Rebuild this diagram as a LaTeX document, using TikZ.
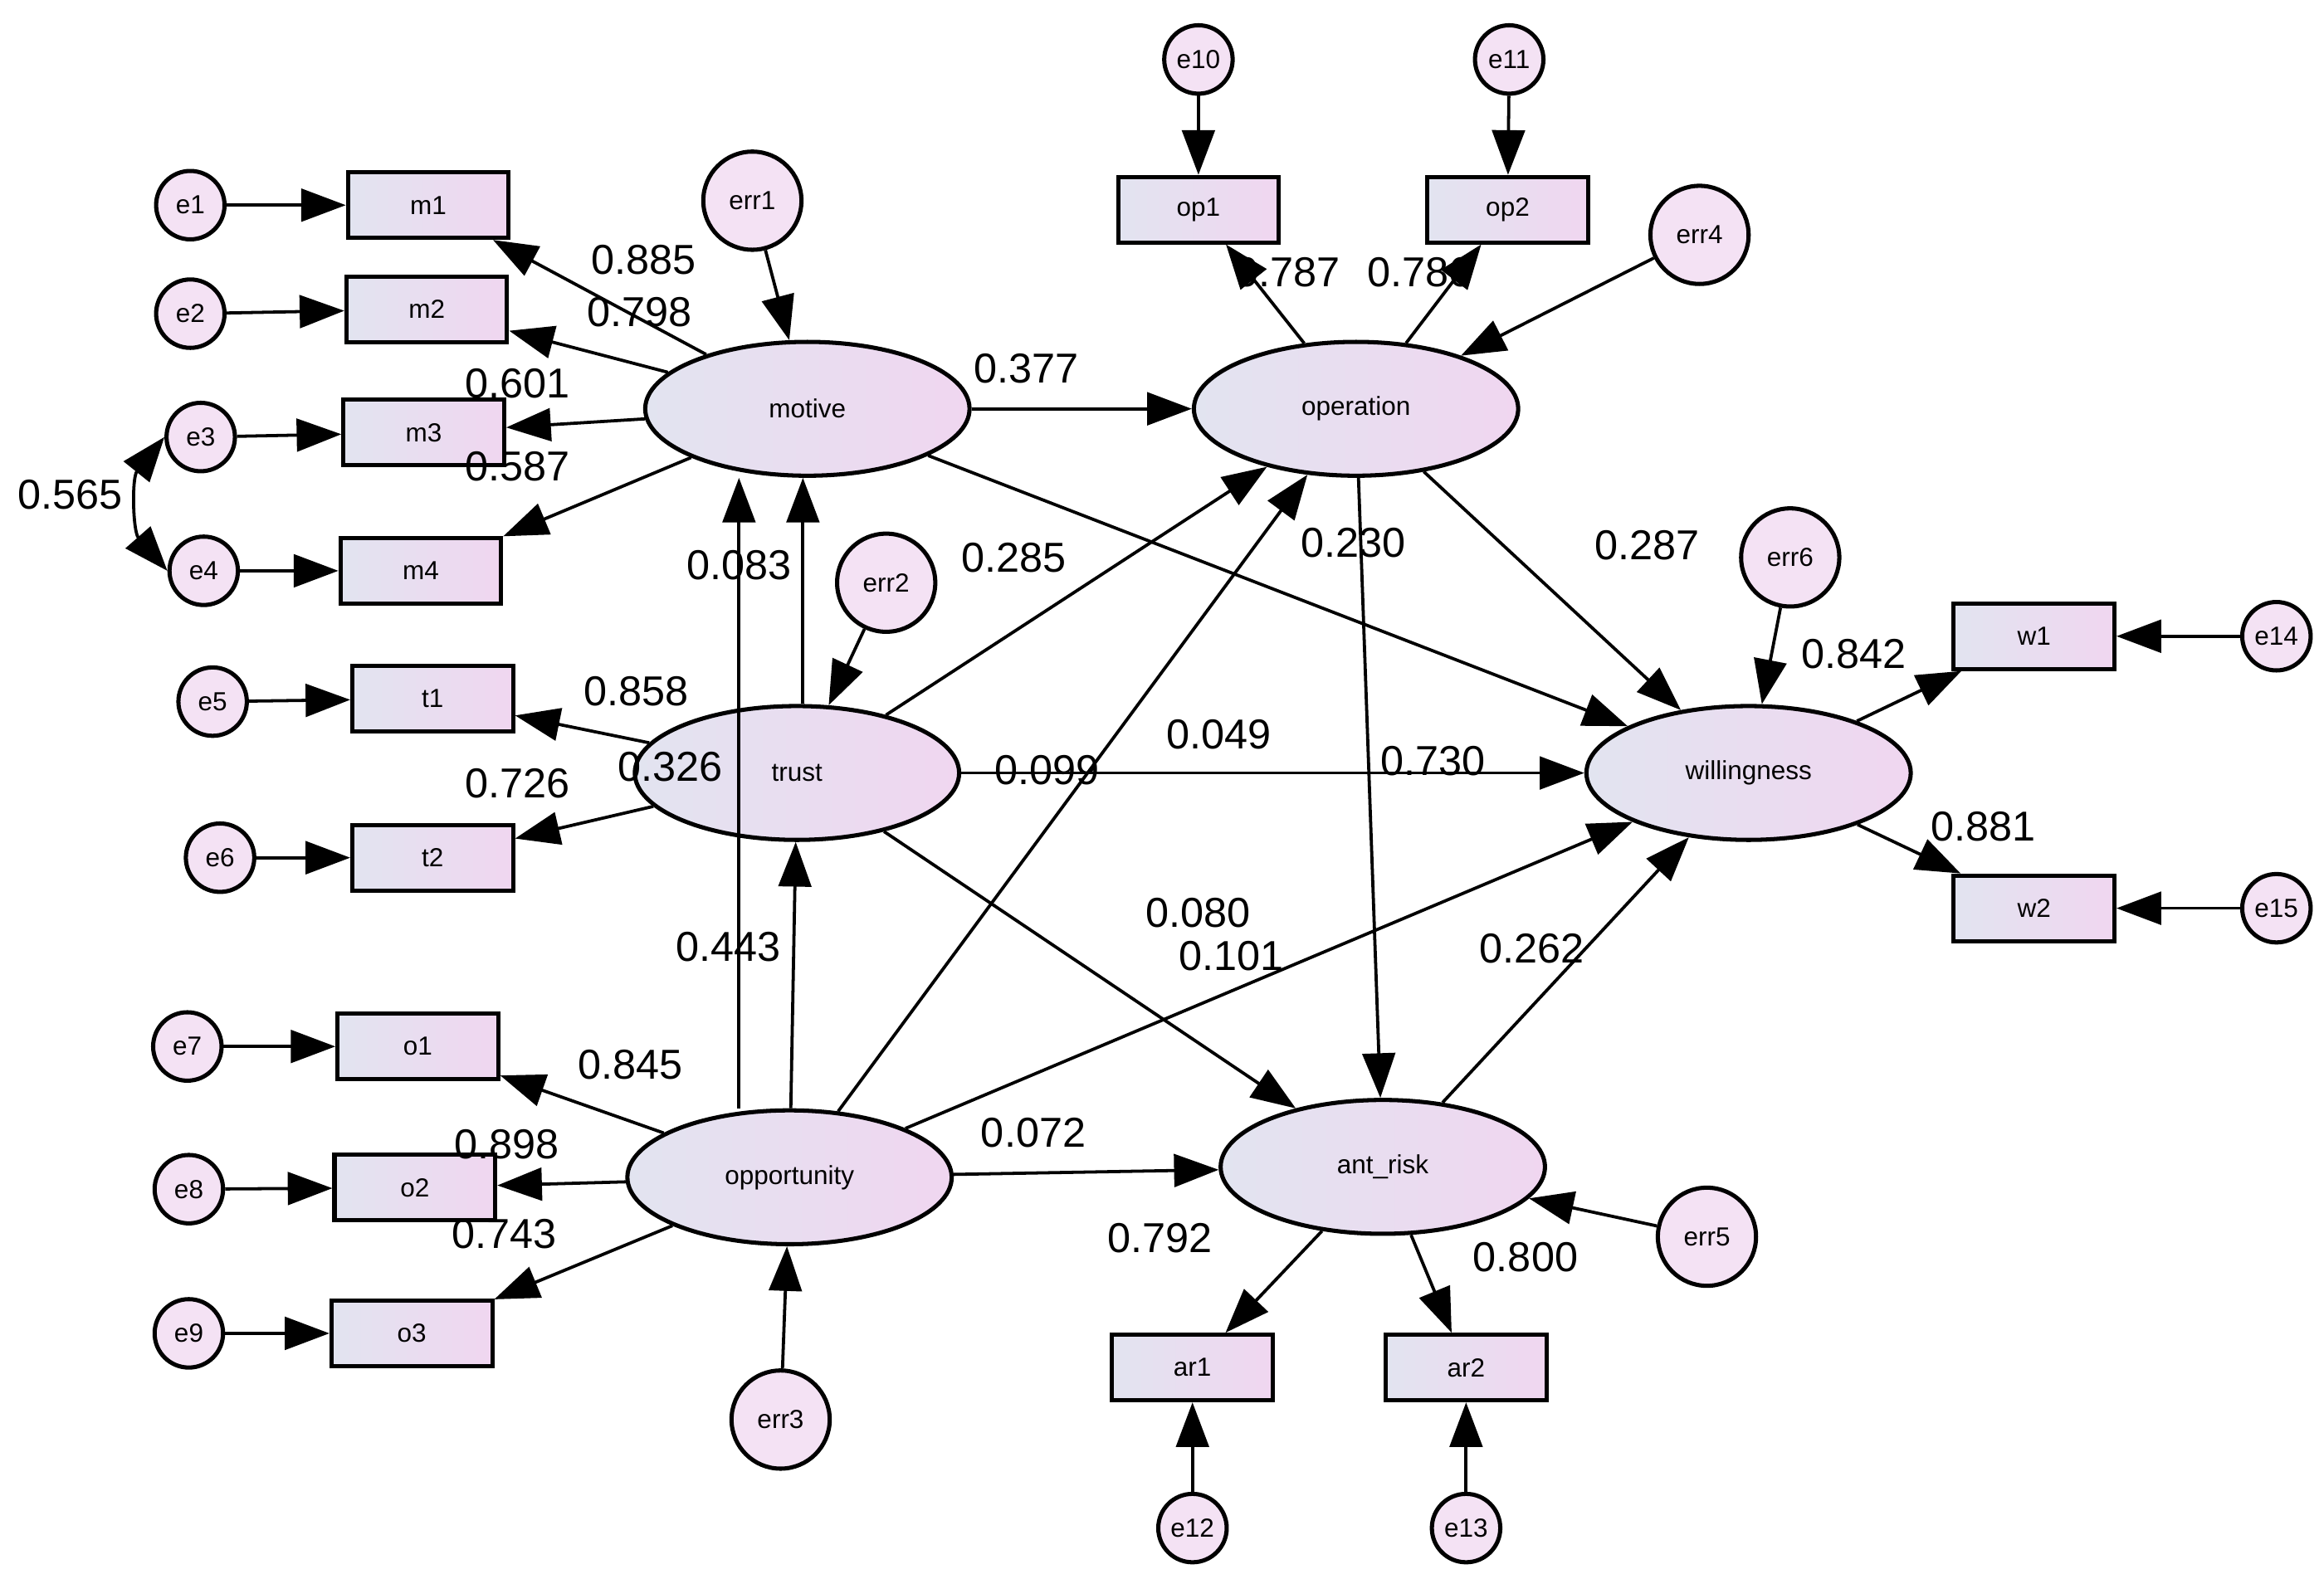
\documentclass[tikz,border=0pt]{standalone}
\usepackage{fontspec}
\setmainfont{Liberation Sans}
\usetikzlibrary{arrows.meta,shapes.geometric}
\definecolor{lblue}{RGB}{226,228,240}
\definecolor{lpink}{RGB}{240,214,240}
\tikzset{
  obs/.style={draw, thick, rectangle, minimum width=1.08cm, minimum height=0.44cm, left color=lblue, right color=lpink, font=\fontsize{5}{6}\selectfont},
  lat/.style={draw, thick, ellipse, minimum width=2.18cm, minimum height=0.9cm, left color=lblue, right color=lpink, font=\fontsize{5}{6}\selectfont},
  err/.style={draw, thick, circle, minimum size=0.46cm, inner sep=0pt, fill=lpink!70, font=\fontsize{5}{6}\selectfont},
  res/.style={err, minimum size=0.66cm},
  lbl/.style={font=\fontsize{8}{9}\selectfont},
  arr/.style={-{Triangle[length=0.3cm,width=0.22cm]}, semithick}
}
\begin{document}
\begin{tikzpicture}[x=0.01cm, y=-0.01cm]
\useasboundingbox (0,0) rectangle (1563,1062);
% measured items
\node[obs] (m1) at (288,138) {m1};
\node[obs] (m2) at (287,208) {m2};
\node[obs] (m3) at (285,291) {m3};
\node[obs] (m4) at (283,384) {m4};
\node[obs] (t1) at (291,470) {t1};
\node[obs] (t2) at (291,577) {t2};
\node[obs] (o1) at (281,704) {o1};
\node[obs] (o2) at (279,799) {o2};
\node[obs] (o3) at (277,897) {o3};
\node[obs] (op1) at (806,141) {op1};
\node[obs] (op2) at (1014,141) {op2};
\node[obs] (w1) at (1368,428) {w1};
\node[obs] (w2) at (1368,611) {w2};
\node[obs] (ar1) at (802,920) {ar1};
\node[obs] (ar2) at (986,920) {ar2};
% errors
\node[err] (e1) at (128,138) {e1};
\node[err] (e2) at (128,211) {e2};
\node[err] (e3) at (135,294) {e3};
\node[err] (e4) at (137,384) {e4};
\node[err] (e5) at (143,472) {e5};
\node[err] (e6) at (148,577) {e6};
\node[err] (e7) at (126,704) {e7};
\node[err] (e8) at (127,800) {e8};
\node[err] (e9) at (127,897) {e9};
\node[err] (e10) at (806,40) {e10};
\node[err] (e11) at (1015,40) {e11};
\node[err] (e12) at (802,1028) {e12};
\node[err] (e13) at (986,1028) {e13};
\node[err] (e14) at (1531,428) {e14};
\node[err] (e15) at (1531,611) {e15};
\node[res] (err1) at (506,135) {err1};
\node[res] (err2) at (596,392) {err2};
\node[res] (err3) at (525,955) {err3};
\node[res] (err4) at (1143,158) {err4};
\node[res] (err5) at (1148,832) {err5};
\node[res] (err6) at (1204,375) {err6};
% latent variables
\node[lat] (motive) at (543,275) {motive};
\node[lat] (trust) at (536,520) {trust};
\node[lat] (opportunity) at (531,792) {opportunity};
\node[lat] (operation) at (912,275) {operation};
\node[lat] (willingness) at (1176,520) {willingness};
\node[lat] (antrisk) at (930,785) {ant\_risk};

\foreach \a/\b in {e1/m1,e2/m2,e3/m3,e4/m4,e5/t1,e6/t2,e7/o1,e8/o2,e9/o3,
  e10/op1,e11/op2,e12/ar1,e13/ar2,e14/w1,e15/w2,
  err1/motive,err2/trust,err3/opportunity,err4/operation,err5/antrisk,err6/willingness,
  motive/m1,motive/m2,motive/m3,motive/m4,trust/t1,trust/t2,
  opportunity/o1,opportunity/o2,opportunity/o3,operation/op1,operation/op2,
  willingness/w1,willingness/w2,antrisk/ar1,antrisk/ar2,
  motive/operation,motive/willingness,trust/operation,trust/willingness,trust/antrisk,
  opportunity/operation,opportunity/willingness,opportunity/antrisk,
  operation/willingness,operation/antrisk,antrisk/willingness,opportunity/trust}
  \draw[arr] (\a) -- (\b);
\draw[arr] (trust.north -| 540,0) -- (motive.south -| 540,0);
\draw[arr] (opportunity.north -| 497,0) -- (motive.south -| 497,0);
\draw[{Triangle[length=0.3cm,width=0.22cm]}-{Triangle[length=0.3cm,width=0.22cm]}, semithick]
  (e3.west) to[bend right=40] (e4.west);

% path coefficients
\foreach \v/\x/\y in {0.885/433/175,0.798/430/210,0.601/348/258,0.587/348/314,0.565/47/333,
  0.377/690/248,0.083/497/380,0.285/682/375,0.858/428/465,0.326/451/516,0.726/348/527,
  0.099/704/518,0.049/820/494,0.730/964/512,0.230/910/365,0.287/1108/367,
  0.080/806/614,0.101/828/643,0.443/490/637,0.262/1030/638,0.845/424/716,
  0.898/341/770,0.743/339/830,0.072/695/762,0.787/866/183,0.786/955/183,
  0.792/780/833,0.800/1026/846,0.842/1247/440,0.881/1334/556}
  \node[lbl] at (\x,\y) {\v};
\end{tikzpicture}
\end{document}
